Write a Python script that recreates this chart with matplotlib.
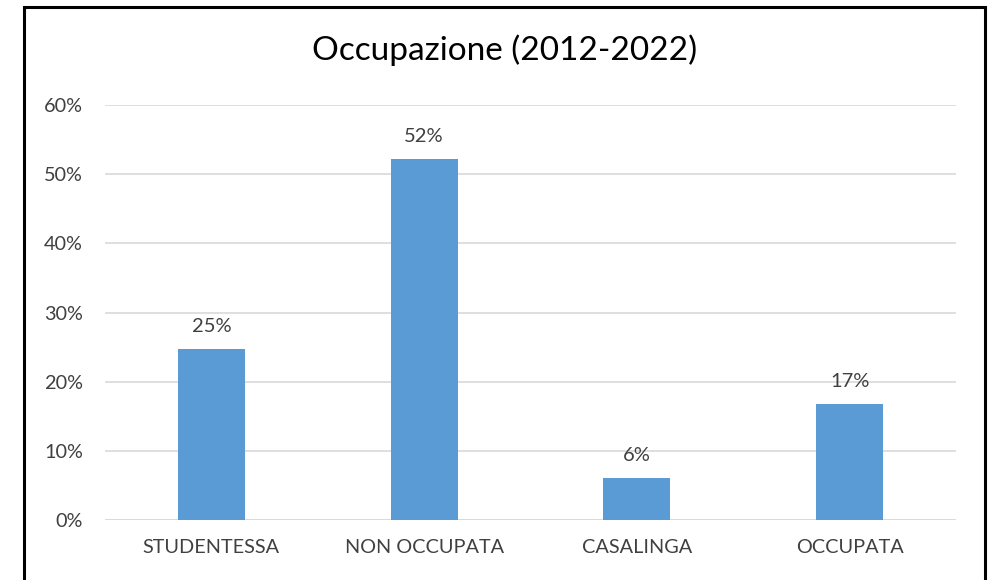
import matplotlib
matplotlib.use("Agg")
import matplotlib.pyplot as plt
from matplotlib.patches import Rectangle
from matplotlib.ticker import PercentFormatter

categories = ["STUDENTESSA", "NON OCCUPATA", "CASALINGA", "OCCUPATA"]
values = [24.7, 52.2, 6.1, 16.8]
labels = ["25%", "52%", "6%", "17%"]
yticks = [0, 10, 20, 30, 40, 50, 60]

plt.rcParams['font.family'] = ['Lato', 'DejaVu Sans']

W, H = 997, 580
fig = plt.figure(figsize=(W/100, H/100), dpi=100)
ax = fig.add_axes([105/W, 1-520/H, (956-105)/W, (520-105)/H])

x = range(len(categories))
ax.bar(x, values, width=0.315, color="#5B9BD5", zorder=3)
ax.set_xlim(-0.5, 3.5)
ax.set_ylim(0, 60)
ax.set_yticks(yticks)
ax.yaxis.set_major_formatter(PercentFormatter(decimals=0))
ax.set_xticks(list(x))
ax.set_xticklabels(categories)
ax.tick_params(axis='both', length=0, labelsize=14.3, colors="#404040")
ax.tick_params(axis='y', pad=16)
ax.tick_params(axis='x', pad=14)
ax.grid(axis='y', color="#D9D9D9", linewidth=1.2, zorder=0)
for s in ax.spines.values():
    s.set_visible(False)
ax.axhline(0, color="#D9D9D9", linewidth=1.2, zorder=1)

for xi, v, lab in zip(x, values, labels):
    ax.annotate(lab, (xi, v), xytext=(0, 10), textcoords="offset points",
                ha="center", va="bottom", fontsize=14.5, color="#404040")

fig.text(505/W, 1-50/H, "Occupazione (2012-2022)", ha="center", va="center",
         fontsize=24, color="#000000")

fig.patches.append(Rectangle((24/W, -0.05), (985-24)/W, (1-7/H)+0.05,
                             transform=fig.transFigure, fill=False,
                             edgecolor="black", linewidth=2.2))

fig.savefig("out.png", dpi=100)
